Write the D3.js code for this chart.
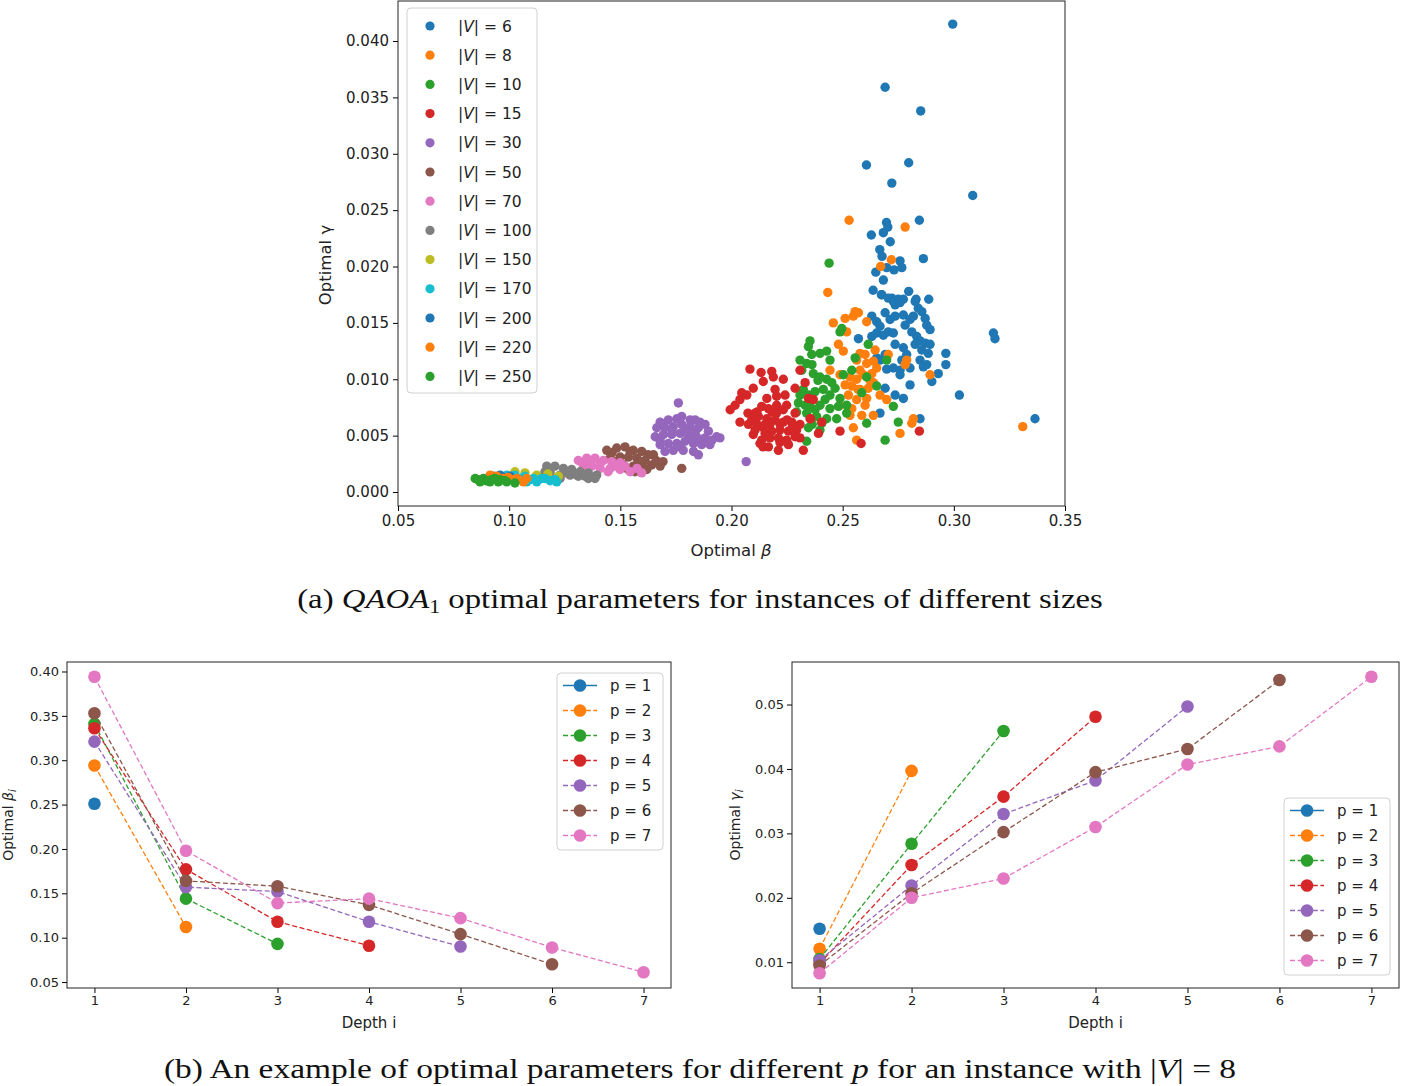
<!DOCTYPE html>
<html>
<head>
<meta charset="utf-8">
<script src="https://cdn.jsdelivr.net/npm/d3@7"></script>
<style>
  body { margin: 0; background: #fff; }
  svg { display: block; font-family: "DejaVu Sans", sans-serif; }
</style>
</head>
<body>
<svg id="fig" width="1401" height="1086"></svg>
<script>
// scatter data: [optimal beta, optimal gamma] for each graph size
var sizes = [6, 8, 10, 15, 30, 50, 70, 100, 150, 170, 200, 220, 250]

var v6 = [[0.2995,0.0415],[0.2691,0.0359],[0.2851,0.0338],[0.2607,0.0290],[0.2797,0.0292],[0.2721,0.0274],[0.3085,0.0263],[0.2845,0.0241],[0.2697,0.0239],[0.2703,0.0235],[0.2683,0.0230],[0.2629,0.0228],[0.2714,0.0222],[0.2667,0.0215],[0.2677,0.0209],[0.2758,0.0205],[0.2766,0.0199],[0.2731,0.0197],[0.2698,0.0199],[0.2863,0.0207],[0.2649,0.0195],[0.2683,0.0188],[0.2637,0.0179],[0.2797,0.0178],[0.2674,0.0175],[0.2721,0.0172],[0.2750,0.0171],[0.2830,0.0171],[0.2887,0.0171],[0.2676,0.0175],[0.2705,0.0172],[0.2728,0.0169],[0.2758,0.0168],[0.2773,0.0171],[0.2826,0.0169],[0.2840,0.0163],[0.2856,0.0160],[0.2691,0.0159],[0.2736,0.0156],[0.2773,0.0157],[0.2803,0.0153],[0.2818,0.0156],[0.2631,0.0156],[0.2653,0.0151],[0.2668,0.0147],[0.2871,0.0154],[0.2878,0.0148],[0.2893,0.0144],[0.2705,0.0142],[0.2728,0.0141],[0.2683,0.0139],[0.2653,0.0141],[0.2631,0.0138],[0.2571,0.0136],[0.2811,0.0142],[0.2833,0.0138],[0.2848,0.0134],[0.2871,0.0132],[0.2856,0.0126],[0.2885,0.0123],[0.2964,0.0123],[0.2964,0.0113],[0.2773,0.0128],[0.2788,0.0122],[0.2766,0.0117],[0.2653,0.0119],[0.2668,0.0117],[0.2698,0.0109],[0.2728,0.0110],[0.2758,0.0108],[0.2803,0.0110],[0.2863,0.0111],[0.2878,0.0113],[0.2930,0.0105],[0.2901,0.0098],[0.2691,0.0092],[0.2736,0.0086],[0.2773,0.0083],[0.3025,0.0086],[0.2668,0.0070],[0.2848,0.0065],[0.3178,0.0141],[0.3185,0.0136],[0.3365,0.0065],[0.2736,0.0166],[0.2781,0.0148],[0.2826,0.0131],[0.2736,0.0131],[0.2691,0.0122],[0.2758,0.0104],[0.2803,0.0095],[0.2848,0.0117],[0.2893,0.0131],[0.2713,0.0153]]
var v8 = [[0.2529,0.0241],[0.2781,0.0235],[0.2719,0.0206],[0.2671,0.0200],[0.2433,0.0177],[0.2556,0.0160],[0.2571,0.0159],[0.2548,0.0156],[0.2608,0.0151],[0.2458,0.0150],[0.2511,0.0154],[0.2518,0.0142],[0.2481,0.0131],[0.2503,0.0125],[0.2578,0.0123],[0.2563,0.0117],[0.2705,0.0122],[0.2788,0.0117],[0.2781,0.0113],[0.2608,0.0114],[0.2638,0.0116],[0.2653,0.0110],[0.2631,0.0105],[0.2443,0.0108],[0.2488,0.0104],[0.2533,0.0102],[0.2563,0.0100],[0.2593,0.0104],[0.2541,0.0094],[0.2578,0.0091],[0.2615,0.0092],[0.2638,0.0097],[0.2893,0.0104],[0.2526,0.0086],[0.2563,0.0082],[0.2608,0.0083],[0.2698,0.0082],[0.2488,0.0077],[0.2541,0.0074],[0.2586,0.0068],[0.2638,0.0068],[0.2818,0.0065],[0.2811,0.0061],[0.2548,0.0057],[0.2563,0.0046],[0.2758,0.0052],[0.3310,0.0058],[0.2601,0.0122],[0.2578,0.0108],[0.2623,0.0099],[0.2569,0.0091],[0.2601,0.0077],[0.2533,0.0068],[0.2511,0.0095],[0.2668,0.0086],[0.2646,0.0126]]
var v10 = [[0.2439,0.0203],[0.2496,0.0145],[0.2488,0.0142],[0.2353,0.0134],[0.2346,0.0129],[0.2615,0.0131],[0.2308,0.0117],[0.2338,0.0114],[0.2361,0.0122],[0.2398,0.0123],[0.2428,0.0125],[0.2443,0.0117],[0.2316,0.0108],[0.2368,0.0105],[0.2398,0.0102],[0.2428,0.0100],[0.2556,0.0119],[0.2541,0.0108],[0.2503,0.0104],[0.2608,0.0102],[0.2653,0.0094],[0.2698,0.0117],[0.2323,0.0091],[0.2346,0.0086],[0.2376,0.0089],[0.2413,0.0091],[0.2451,0.0097],[0.2301,0.0079],[0.2353,0.0076],[0.2398,0.0077],[0.2443,0.0074],[0.2481,0.0076],[0.2518,0.0077],[0.2338,0.0070],[0.2383,0.0067],[0.2428,0.0065],[0.2473,0.0065],[0.2518,0.0070],[0.2293,0.0071],[0.2406,0.0061],[0.2346,0.0057],[0.2338,0.0045],[0.2586,0.0088],[0.2728,0.0076],[0.2750,0.0062],[0.2608,0.0061],[0.2691,0.0046],[0.2362,0.0113],[0.2389,0.0099],[0.2443,0.0086],[0.2331,0.0077],[0.2376,0.0073],[0.2421,0.0082],[0.2353,0.0083],[0.2308,0.0086],[0.2398,0.0055],[0.2488,0.0083],[0.2466,0.0092],[0.2363,0.0060]]
var v15 = [[0.2083,0.0109],[0.2133,0.0106],[0.2181,0.0107],[0.2188,0.0102],[0.2143,0.0098],[0.2233,0.0100],[0.2098,0.0092],[0.2069,0.0086],[0.2046,0.0088],[0.2016,0.0077],[0.2196,0.0091],[0.2159,0.0083],[0.2203,0.0085],[0.2241,0.0086],[0.2286,0.0092],[0.2136,0.0076],[0.2166,0.0074],[0.2203,0.0077],[0.2248,0.0077],[0.2286,0.0070],[0.2091,0.0064],[0.2121,0.0067],[0.2159,0.0065],[0.2196,0.0064],[0.2233,0.0062],[0.2271,0.0062],[0.2106,0.0055],[0.2143,0.0057],[0.2181,0.0054],[0.2218,0.0055],[0.2256,0.0054],[0.2293,0.0055],[0.2098,0.0051],[0.2136,0.0046],[0.2173,0.0048],[0.2211,0.0048],[0.2248,0.0046],[0.2286,0.0049],[0.2128,0.0043],[0.2166,0.0040],[0.2211,0.0037],[0.2256,0.0042],[0.2308,0.0048],[0.2331,0.0097],[0.2346,0.0083],[0.2368,0.0082],[0.2353,0.0065],[0.2406,0.0062],[0.2391,0.0052],[0.2308,0.0108],[0.2323,0.0037],[0.2583,0.0043],[0.2488,0.0054],[0.2845,0.0054],[0.2356,0.0065],[0.2106,0.0070],[0.2203,0.0070],[0.2076,0.0060],[0.2218,0.0060],[0.2038,0.0062],[0.2151,0.0060],[0.2115,0.0071],[0.2182,0.0071],[0.2250,0.0064],[0.2151,0.0052],[0.2218,0.0044],[0.2115,0.0060],[0.2272,0.0057],[0.2173,0.0060],[0.2074,0.0070],[0.2308,0.0060],[0.2233,0.0073],[0.2142,0.0040],[0.2038,0.0082],[0.1994,0.0073]]
var v30 = [[0.1761,0.0079],[0.1679,0.0062],[0.1716,0.0064],[0.1754,0.0065],[0.1776,0.0067],[0.1814,0.0064],[0.1836,0.0064],[0.1858,0.0062],[0.1664,0.0057],[0.1701,0.0057],[0.1738,0.0058],[0.1776,0.0060],[0.1814,0.0058],[0.1851,0.0057],[0.1896,0.0054],[0.1657,0.0049],[0.1694,0.0051],[0.1731,0.0051],[0.1769,0.0052],[0.1806,0.0051],[0.1843,0.0049],[0.1881,0.0048],[0.1933,0.0049],[0.1679,0.0042],[0.1716,0.0043],[0.1754,0.0043],[0.1791,0.0045],[0.1829,0.0043],[0.1866,0.0042],[0.1903,0.0042],[0.1738,0.0037],[0.1783,0.0037],[0.1829,0.0036],[0.1851,0.0033],[0.2066,0.0027],[0.1688,0.0060],[0.1733,0.0055],[0.1791,0.0055],[0.1836,0.0053],[0.1881,0.0060],[0.1679,0.0046],[0.1769,0.0040],[0.1814,0.0048],[0.1858,0.0046],[0.1912,0.0046],[0.1701,0.0036],[0.1948,0.0048]]
var v50 = [[0.1439,0.0037],[0.1484,0.0039],[0.1521,0.0040],[0.1558,0.0037],[0.1596,0.0036],[0.1454,0.0030],[0.1499,0.0031],[0.1536,0.0031],[0.1574,0.0030],[0.1611,0.0028],[0.1649,0.0033],[0.1514,0.0024],[0.1558,0.0023],[0.1596,0.0023],[0.1641,0.0024],[0.1679,0.0023],[0.1566,0.0018],[0.1619,0.0020],[0.1776,0.0021],[0.1463,0.0035],[0.1544,0.0036],[0.1625,0.0033],[0.1476,0.0027],[0.1589,0.0027],[0.1661,0.0028],[0.1535,0.0020],[0.1692,0.0027]]
var v70 = [[0.1311,0.0028],[0.1349,0.0030],[0.1386,0.0030],[0.1424,0.0028],[0.1461,0.0027],[0.1499,0.0026],[0.1334,0.0023],[0.1371,0.0023],[0.1409,0.0021],[0.1454,0.0021],[0.1499,0.0020],[0.1544,0.0018],[0.1596,0.0017],[0.1364,0.0027],[0.1409,0.0025],[0.1476,0.0023],[0.1521,0.0023],[0.1328,0.0026],[0.1445,0.0018],[0.1575,0.0021]]
var v100 = [[0.1169,0.0023],[0.1206,0.0023],[0.1244,0.0021],[0.1281,0.0020],[0.1319,0.0018],[0.1356,0.0017],[0.1394,0.0015],[0.1184,0.0017],[0.1229,0.0015],[0.1274,0.0015],[0.1311,0.0014],[0.1356,0.0012],[0.1184,0.0020],[0.1251,0.0017],[0.1296,0.0016],[0.1341,0.0014],[0.1386,0.0012],[0.1229,0.0012],[0.1161,0.0018]]
var v150 = [[0.1026,0.0018],[0.1071,0.0017],[0.1124,0.0015],[0.1174,0.0016],[0.1221,0.0014]]
var v170 = [[0.0989,0.0015],[0.1026,0.0015],[0.1071,0.0014],[0.1109,0.0012],[0.1146,0.0012],[0.1206,0.0011],[0.1079,0.0009],[0.1124,0.0009],[0.1214,0.0009],[0.1049,0.0012],[0.1094,0.0011],[0.1161,0.0012],[0.1184,0.0010]]
var v200 = [[0.0929,0.0014],[0.0959,0.0015],[0.1004,0.0014],[0.0974,0.0013]]
var v220 = [[0.0914,0.0015],[0.0944,0.0014],[0.0974,0.0012],[0.1019,0.0011],[0.1064,0.0009],[0.1079,0.0012],[0.0995,0.0013],[0.1036,0.0012]]
var v250 = [[0.0847,0.0012],[0.0884,0.0012],[0.0921,0.0011],[0.0959,0.0011],[0.0869,0.0009],[0.0914,0.0009],[0.0951,0.0009],[0.1026,0.0008],[0.0989,0.0009],[0.0860,0.0011],[0.0896,0.0010],[0.0936,0.0012],[0.0981,0.0010]]

var scatterSets = [v6, v8, v10, v15, v30, v50, v70, v100, v150, v170, v200, v220, v250]

// line charts: optimal beta_i and gamma_i per depth, one row per p
var depths = [1, 2, 3, 4, 5, 6, 7]
var pLabels = ["p = 1", "p = 2", "p = 3", "p = 4", "p = 5", "p = 6", "p = 7"]
var betas = [
  [0.251],
  [0.294, 0.112],
  [0.341, 0.144, 0.093],
  [0.336, 0.177, 0.118, 0.091],
  [0.321, 0.157, 0.152, 0.118, 0.090],
  [0.353, 0.164, 0.158, 0.137, 0.104, 0.070],
  [0.394, 0.198, 0.139, 0.144, 0.122, 0.089, 0.061]
]
var gammas = [
  [0.0152],
  [0.0121, 0.0397],
  [0.0105, 0.0284, 0.0459],
  [0.0098, 0.0251, 0.0357, 0.0481],
  [0.0103, 0.0219, 0.0330, 0.0382, 0.0497],
  [0.0095, 0.0207, 0.0302, 0.0395, 0.0431, 0.0538],
  [0.0083, 0.0200, 0.0230, 0.0310, 0.0407, 0.0435, 0.0543]
]
var betaTicks = [0.05, 0.10, 0.15, 0.20, 0.25, 0.30, 0.35, 0.40]
var gammaTicks = [0.01, 0.02, 0.03, 0.04, 0.05]
var scatterXTicks = [0.05, 0.10, 0.15, 0.20, 0.25, 0.30, 0.35]
var scatterYTicks = [0, 0.005, 0.01, 0.015, 0.02, 0.025, 0.03, 0.035, 0.04]

var tab10 = d3.schemeCategory10
var svg = d3.select("#fig")

// axis helper, matplotlib look
function styleAxis(g, fs) {
  g.select(".domain").remove()
  g.selectAll(".tick line").attr("stroke", "#000").attr("stroke-width", 1)
  g.selectAll(".tick text").attr("fill", "#222").style("font-size", fs + "px")
    .attr("font-family", "DejaVu Sans, sans-serif")
}

// stretch a caption horizontally to the width it has in the figure
function fitWidth(sel, cx, width) {
  var w = sel.node().getComputedTextLength()
  var k = width / w
  sel.attr("transform", "translate(" + cx + ",0) scale(" + k + ",1) translate(" + (-cx) + ",0)")
}

// ===== (a) scatter =====
var sx = d3.scaleLinear().domain([0.05, 0.35]).range([398, 1065])
var sy = d3.scaleLinear().domain([-0.00124, 0.04355]).range([506, 1])

var gx = svg.append("g").attr("transform", "translate(0,506)")
  .call(d3.axisBottom(sx).tickValues(scatterXTicks).tickFormat(d3.format(".2f")).tickSize(5).tickPadding(4))
styleAxis(gx, 15)
var gy = svg.append("g").attr("transform", "translate(398,0)")
  .call(d3.axisLeft(sy).tickValues(scatterYTicks).tickFormat(d3.format(".3f")).tickSize(5).tickPadding(4))
styleAxis(gy, 15)

scatterSets.forEach(function(set, i) {
  svg.append("g").selectAll("circle")
    .data(set)
    .join("circle")
    .attr("cx", d => sx(d[0]))
    .attr("cy", d => sy(d[1]))
    .attr("r", 4.7)
    .attr("fill", tab10[i % 10])
})

svg.append("rect").attr("x", 398).attr("y", 1).attr("width", 667).attr("height", 505)
  .attr("fill", "none").attr("stroke", "#222").attr("stroke-width", 1)

// legend
var leg = svg.append("g")
leg.append("rect").attr("x", 407).attr("y", 8).attr("width", 130).attr("height", 385)
  .attr("rx", 4).attr("fill", "#fff").attr("fill-opacity", 0.85).attr("stroke", "#d0d0d0")
var legItems = leg.selectAll("g.item").data(sizes).join("g")
  .attr("transform", (d, i) => "translate(0," + (26 + i * 29.2) + ")")
legItems.append("circle").attr("cx", 430).attr("cy", 0).attr("r", 4.6)
  .attr("fill", (d, i) => tab10[i % 10])
var lt = legItems.append("text").attr("x", 458).attr("y", 0).attr("dy", "0.36em")
  .style("font-size", "15.5px").attr("fill", "#222")
lt.append("tspan").text("|")
lt.append("tspan").attr("font-style", "italic").text("V")
lt.append("tspan").text(d => "| = " + d)

svg.append("text").attr("transform", "translate(331,265) rotate(-90)")
  .attr("text-anchor", "middle").style("font-size", "16.5px").attr("fill", "#222")
  .text("Optimal γ")
var xl = svg.append("text").attr("x", 731).attr("y", 556).attr("text-anchor", "middle")
  .style("font-size", "16.5px").attr("fill", "#222")
xl.append("tspan").text("Optimal ")
xl.append("tspan").attr("font-style", "italic").text("β")

// caption a
var capA = svg.append("text").attr("x", 700).attr("y", 608).attr("text-anchor", "middle")
  .attr("font-family", "Liberation Serif, serif").style("font-size", "27px").attr("fill", "#111")
capA.append("tspan").text("(a) ")
capA.append("tspan").attr("font-style", "italic").text("QAOA")
capA.append("tspan").attr("dy", 5).style("font-size", "18px").text("1")
capA.append("tspan").attr("dy", -5).text(" optimal parameters for instances of different sizes")
fitWidth(capA, 700, 806)

// ===== (b) line charts =====
function lineChart(cfg) {
  var x = d3.scaleLinear().domain([0.7, 7.3]).range([cfg.left, cfg.right])
  var y = d3.scaleLinear().domain(cfg.ydom).range([988, 662])
  var g = svg.append("g")

  var ax = g.append("g").attr("transform", "translate(0,988)")
    .call(d3.axisBottom(x).tickValues(depths).tickFormat(d3.format("d")).tickSize(5).tickPadding(3))
  styleAxis(ax, 13)
  var ay = g.append("g").attr("transform", "translate(" + cfg.left + ",0)")
    .call(d3.axisLeft(y).tickValues(cfg.ticks).tickFormat(d3.format(".2f")).tickSize(5).tickPadding(3))
  styleAxis(ay, 13)

  var line = d3.line().x((d, i) => x(depths[i])).y(d => y(d))
  cfg.values.forEach(function(vals, k) {
    g.append("path").attr("d", line(vals)).attr("fill", "none")
      .attr("stroke", tab10[k]).attr("stroke-width", 1.3)
      .attr("stroke-dasharray", k === 0 ? null : "5,2.6")
    g.append("g").selectAll("circle").data(vals).join("circle")
      .attr("cx", (d, i) => x(depths[i])).attr("cy", d => y(d))
      .attr("r", 6.3).attr("fill", tab10[k])
  })

  g.append("rect").attr("x", cfg.left).attr("y", 662).attr("width", cfg.right - cfg.left).attr("height", 326)
    .attr("fill", "none").attr("stroke", "#222").attr("stroke-width", 1)

  // legend
  var lg = g.append("g").attr("transform", "translate(" + cfg.legX + "," + cfg.legY + ")")
  lg.append("rect").attr("x", 0).attr("y", 0).attr("width", 106).attr("height", 177)
    .attr("rx", 4).attr("fill", "#fff").attr("fill-opacity", 0.85).attr("stroke", "#d0d0d0")
  var it = lg.selectAll("g.it").data(pLabels).join("g")
    .attr("transform", (d, i) => "translate(0," + (12.5 + i * 25) + ")")
  it.append("line").attr("x1", 6).attr("x2", 40).attr("y1", 0).attr("y2", 0)
    .attr("stroke", (d, i) => tab10[i]).attr("stroke-width", 1.3)
    .attr("stroke-dasharray", (d, i) => i === 0 ? null : "5,2.6")
  it.append("circle").attr("cx", 23).attr("cy", 0).attr("r", 6.3).attr("fill", (d, i) => tab10[i])
  it.append("text").attr("x", 53).attr("y", 0).attr("dy", "0.36em")
    .style("font-size", "15px").attr("fill", "#222").text(d => d)

  // labels
  var yl = g.append("text").attr("transform", "translate(" + cfg.ylabX + ",825) rotate(-90)")
    .attr("text-anchor", "middle").style("font-size", "14px").attr("fill", "#222")
  yl.append("tspan").text("Optimal ")
  yl.append("tspan").attr("font-style", "italic").text(cfg.sym)
  yl.append("tspan").attr("font-style", "italic").attr("dy", 3).style("font-size", "10px").text("i")
  g.append("text").attr("x", (cfg.left + cfg.right) / 2).attr("y", 1028).attr("text-anchor", "middle")
    .style("font-size", "15px").attr("fill", "#222").text("Depth i")
}

lineChart({left: 67, right: 671, ydom: [0.0433, 0.4107], ticks: betaTicks, values: betas,
  legX: 557, legY: 673, ylabX: 13, sym: "β"})
lineChart({left: 792, right: 1399, ydom: [0.006, 0.0566], ticks: gammaTicks, values: gammas,
  legX: 1284, legY: 798, ylabX: 740, sym: "γ"})

// caption b
var capB = svg.append("text").attr("x", 700).attr("y", 1078).attr("text-anchor", "middle")
  .attr("font-family", "Liberation Serif, serif").style("font-size", "27px").attr("fill", "#111")
capB.append("tspan").text("(b) An example of optimal parameters for different ")
capB.append("tspan").attr("font-style", "italic").text("p")
capB.append("tspan").text(" for an instance with |")
capB.append("tspan").attr("font-style", "italic").text("V")
capB.append("tspan").text("| = 8")
fitWidth(capB, 700, 1073)
</script>
</body>
</html>
